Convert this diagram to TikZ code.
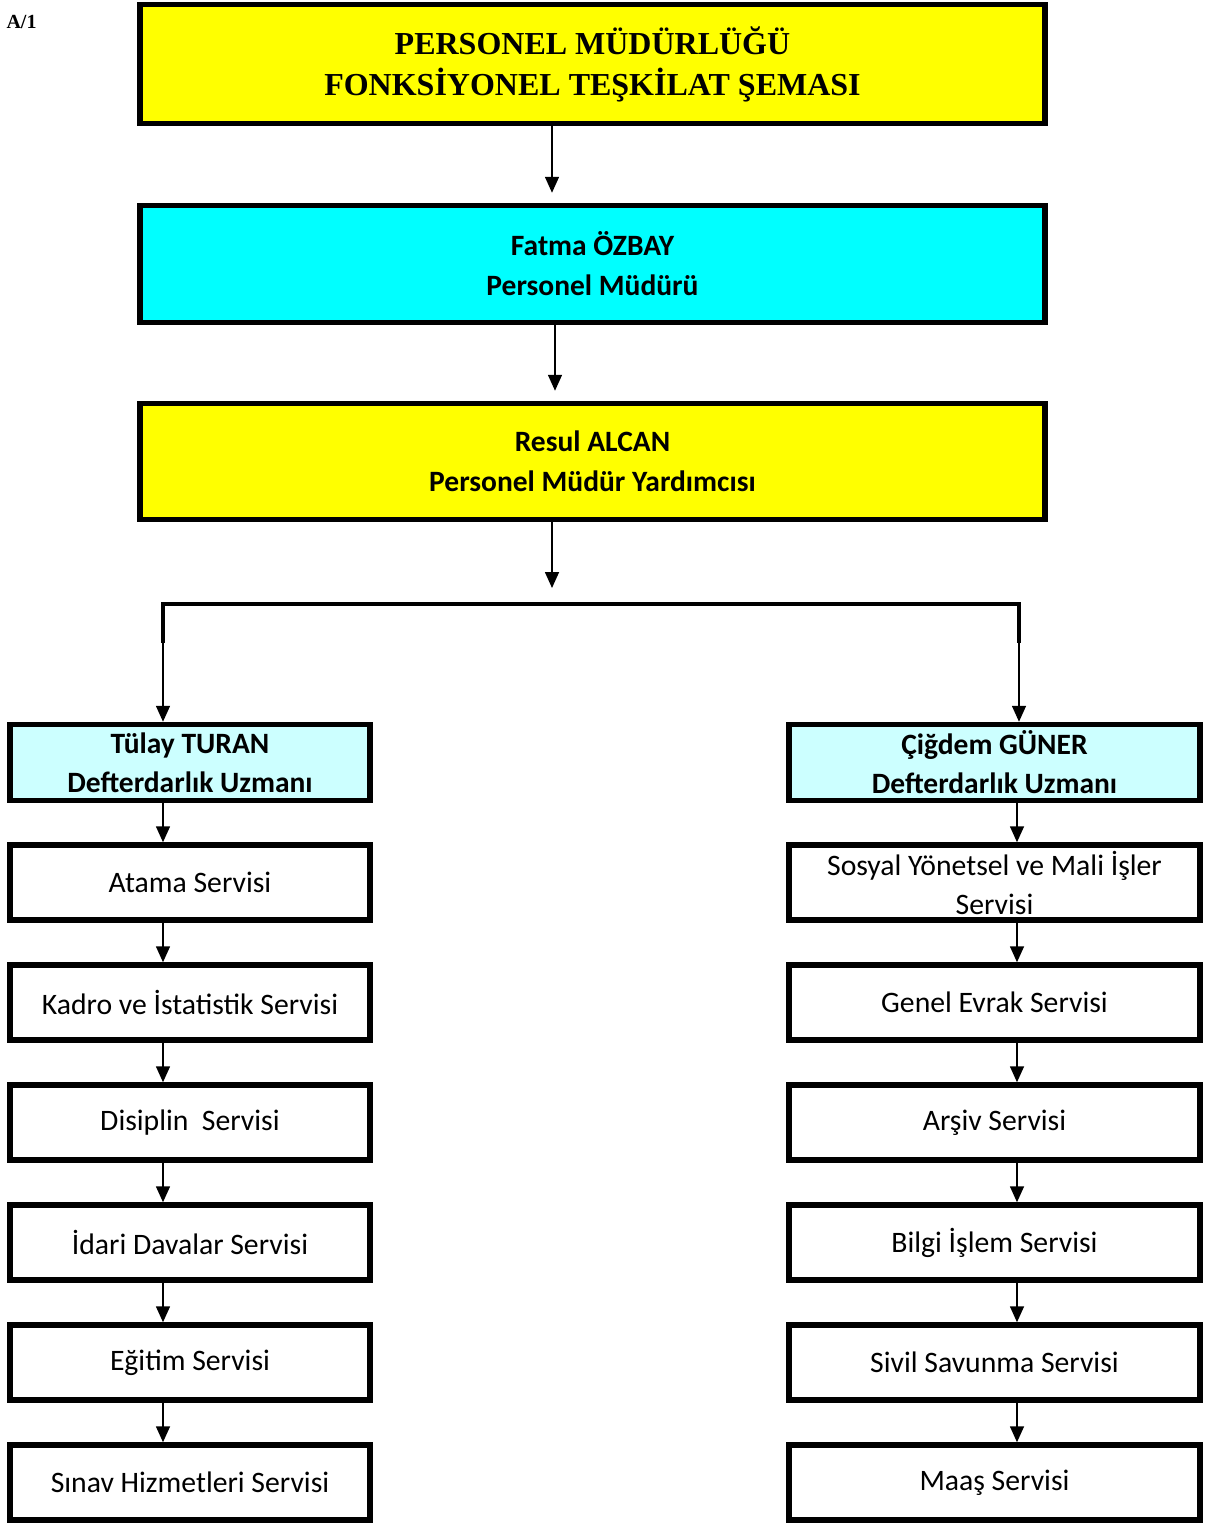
\documentclass[tikz,border=0pt]{standalone}
\usepackage{fontspec}
\setmainfont{Carlito}
\newfontfamily\timesfont{Liberation Serif}
\usetikzlibrary{arrows.meta}
\definecolor{sari}{HTML}{FFFF00}
\definecolor{turkuaz}{HTML}{00FFFF}
\definecolor{acikmavi}{HTML}{CCFFFF}

\begin{document}
\begin{tikzpicture}[x=1pt,y=-1pt,
	kutu/.style={draw,line width=5.5pt,align=center,inner sep=0pt,font=\fontsize{29.7}{39}\selectfont},
	buyuk/.style={kutu,minimum width=905pt,minimum height=118pt,font=\fontsize{29.5}{40}\selectfont\bfseries},
	kisi/.style={kutu,fill=acikmavi,minimum height=76pt,font=\fontsize{29.5}{39}\selectfont\bfseries},
	servis/.style={kutu,fill=white,minimum height=75pt},
	sol/.style={minimum width=360pt},
	sag/.style={minimum width=411pt},
	ok/.style={-{Triangle[length=16pt,width=14pt]},line width=1.6pt}]
	\useasboundingbox (0,0) rectangle (1209,1526);
	\node[anchor=base west,font=\fontsize{20}{24}\selectfont\timesfont\bfseries] (etiket) at (3,28) {A/1};
	% ust kutular
	\node[buyuk,fill=sari,minimum height=119pt,font=\fontsize{32}{41}\selectfont\timesfont\bfseries] (baslik) at (592.5,64) {PERSONEL MÜDÜRLÜĞÜ\\FONKSİYONEL TEŞKİLAT ŞEMASI};
	\node[buyuk,fill=turkuaz,minimum height=117pt] (mudur) at (592.5,264) {Fatma ÖZBAY\\Personel Müdürü};
	\node[buyuk,fill=sari,minimum height=116pt] (yardimci) at (592.5,461.5) {Resul ALCAN\\Personel Müdür Yardımcısı};
	\coordinate (xa) at (552,0);
	\coordinate (xb) at (555,0);
	\coordinate (orta) at (552,588);
	\draw[ok,shorten >=10pt] (baslik.south -| xa) -- (mudur.north -| xa);
	\draw[ok,shorten >=10pt] (mudur.south -| xb) -- (yardimci.north -| xb);
	\draw[ok] (yardimci.south -| xa) -- (orta);
	% iki kol
	\node[kisi,sol] (turan) at (190,762.5) {Tülay TURAN\\Defterdarlık Uzmanı};
	\node[kisi,sag] (guner) at (994.5,762.5) {Çiğdem GÜNER\\Defterdarlık Uzmanı};
	\coordinate (solx) at (163,643);
	\coordinate (sagx) at (1019,643);
	\coordinate (sagy) at (1017,0);
	\draw[line width=3.5pt,line join=miter] (solx) -- ++(0,-39) -| (sagx);
	\draw[ok] (solx) -- (turan.north -| solx);
	\draw[ok] (sagx) -- (guner.north -| sagx);
	% servisler
	\foreach \i/\ad in {1/Atama Servisi,2/Kadro ve İstatistik Servisi,3/Disiplin\ \ Servisi,4/İdari Davalar Servisi,5/Eğitim Servisi,6/Sınav Hizmetleri Servisi}
		\node[servis,sol] (s\i) at (190,{762.5+\i*120}) {\ad};
	\foreach \i/\ad in {1/{Sosyal Yönetsel ve Mali İşler\\Servisi},2/Genel Evrak Servisi,3/Arşiv Servisi,4/Bilgi İşlem Servisi,5/Sivil Savunma Servisi,6/Maaş Servisi}
		\node[servis,sag] (r\i) at (994.5,{762.5+\i*120}) {\ad};
	\draw[ok] (turan.south -| solx) -- (s1.north -| solx);
	\draw[ok] (guner.south -| sagy) -- (r1.north -| sagy);
	\foreach \i [count=\j from 2] in {1,...,5} {
		\draw[ok] (s\i.south -| solx) -- (s\j.north -| solx);
		\draw[ok] (r\i.south -| sagy) -- (r\j.north -| sagy);
	}
\end{tikzpicture}
\end{document}
